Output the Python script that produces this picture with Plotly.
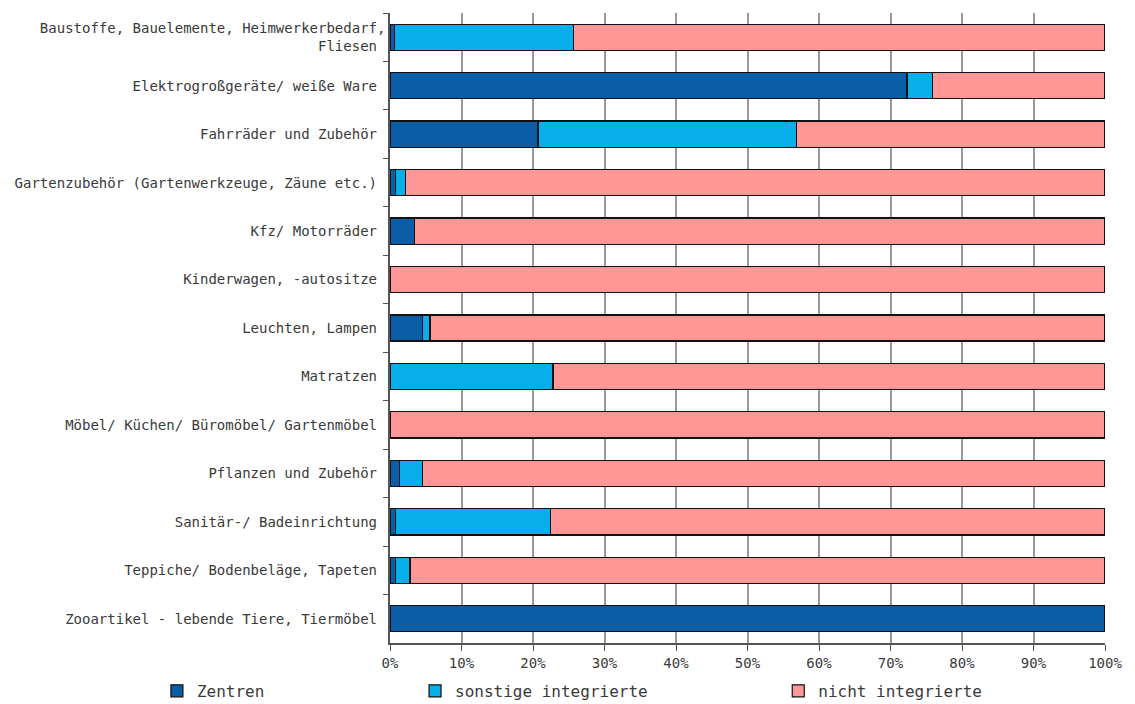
import plotly.graph_objects as go

categories = [
    "Baustoffe, Bauelemente, Heimwerkerbedarf,<br>Fliesen",
    "Elektrogroßgeräte/ weiße Ware",
    "Fahrräder und Zubehör",
    "Gartenzubehör (Gartenwerkzeuge, Zäune etc.)",
    "Kfz/ Motorräder",
    "Kinderwagen, -autositze",
    "Leuchten, Lampen",
    "Matratzen",
    "Möbel/ Küchen/ Büromöbel/ Gartenmöbel",
    "Pflanzen und Zubehör",
    "Sanitär-/ Badeinrichtung",
    "Teppiche/ Bodenbeläge, Tapeten",
    "Zooartikel - lebende Tiere, Tiermöbel",
]
zentren = [0.6, 72.3, 20.7, 0.8, 3.4, 0.0, 4.5, 0.0, 0.0, 1.3, 0.8, 0.8, 100.0]
sonstige = [25.1, 3.6, 36.2, 1.4, 0.0, 0.0, 1.1, 22.8, 0.0, 3.2, 21.7, 2.0, 0.0]
nicht = [74.3, 24.1, 43.1, 97.8, 96.6, 100.0, 94.4, 77.2, 100.0, 95.5, 77.5, 97.2, 0.0]
series_names = ["Zentren", "sonstige integrierte", "nicht integrierte"]
x_ticks = [0, 10, 20, 30, 40, 50, 60, 70, 80, 90, 100]
x_tick_labels = [f"{t}%" for t in x_ticks]

colors = ["#0b5ea6", "#06aeea", "#ff9797"]
font_family = "DejaVu Sans Mono"
text_color = "#3a3a3a"

fig = go.Figure()
legends = ["legend", "legend2", "legend3"]
for name, vals, col, lg in zip(series_names, [zentren, sonstige, nicht], colors, legends):
    fig.add_trace(go.Bar(
        y=categories, x=vals, name=name, orientation="h",
        marker=dict(color=col, line=dict(color="#111111", width=1.2)),
        legend=lg, showlegend=True,
    ))

leg_common = dict(orientation="h", yanchor="middle", y=-0.076, xanchor="left",
                  font=dict(family=font_family, size=16, color=text_color),
                  bgcolor="rgba(0,0,0,0)", itemwidth=30)
fig.update_layout(
    barmode="stack",
    bargap=0.46,
    width=1128, height=697,
    margin=dict(l=382, r=31, t=5, b=62, autoexpand=False),
    plot_bgcolor="white", paper_bgcolor="white",
    font=dict(family=font_family, size=14, color=text_color),
    showlegend=True,
    legend=dict(**{**leg_common, "x": -0.326}),
    legend2=dict(**{**leg_common, "x": 0.035}),
    legend3=dict(**{**leg_common, "x": 0.543}),
    xaxis=dict(
        range=[0, 100], tickvals=x_ticks, ticktext=x_tick_labels,
        showgrid=True, gridcolor="#9a9a9a", gridwidth=1.6,
        showline=True, linecolor="#555555", linewidth=1.5,
        ticks="outside", ticklen=6, tickcolor="#555555",
        tickfont=dict(family=font_family, size=14, color=text_color),
        zeroline=False, fixedrange=True,
    ),
    yaxis=dict(
        autorange="reversed", type="category",
        showline=True, linecolor="#555555", linewidth=1.5,
        ticks="outside", ticklen=5, tickcolor="#555555", tickson="boundaries",
        showgrid=False,
        tickfont=dict(family=font_family, size=14, color=text_color),
        ticksuffix=" ",
    ),
)
fig.write_html("out.html")
